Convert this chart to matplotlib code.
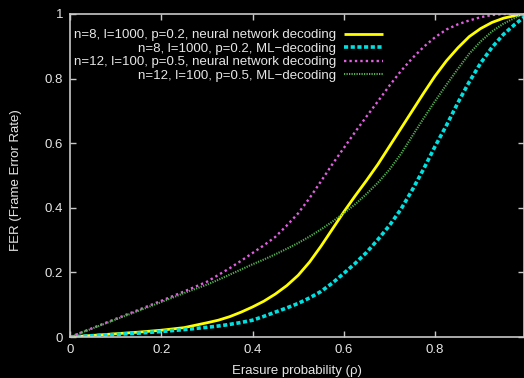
import matplotlib
matplotlib.use("Agg")
import matplotlib.pyplot as plt

plt.rcParams['font.family'] = ['Liberation Sans', 'DejaVu Sans']

# Data
rho = [0.0, 0.05, 0.1, 0.15, 0.2, 0.25, 0.3, 0.325, 0.35, 0.375, 0.4, 0.425,
       0.45, 0.475, 0.5, 0.525, 0.55, 0.575, 0.6, 0.625, 0.65, 0.675, 0.7,
       0.725, 0.75, 0.775, 0.8, 0.825, 0.85, 0.875, 0.9, 0.925, 0.95, 0.975,
       0.995]

fer_n8_nn = [0.0, 0.005, 0.01, 0.015, 0.021, 0.029, 0.044, 0.052, 0.063, 0.077,
             0.093, 0.111, 0.133, 0.159, 0.191, 0.232, 0.281, 0.334, 0.387, 0.437,
             0.485, 0.535, 0.59, 0.645, 0.7, 0.755, 0.808, 0.855, 0.895, 0.93,
             0.955, 0.974, 0.987, 0.995, 1.0]
fer_n8_ml = [0.0, 0.004, 0.008, 0.012, 0.017, 0.023, 0.030, 0.034, 0.039, 0.045,
             0.052, 0.064, 0.077, 0.09, 0.104, 0.121, 0.141, 0.167, 0.197, 0.228,
             0.262, 0.302, 0.345, 0.395, 0.455, 0.52, 0.59, 0.655, 0.725, 0.79,
             0.848, 0.897, 0.937, 0.968, 0.99]
fer_n12_nn = [0.0, 0.028, 0.056, 0.084, 0.112, 0.141, 0.171, 0.192, 0.213, 0.236,
              0.26, 0.284, 0.31, 0.345, 0.383, 0.43, 0.482, 0.535, 0.585, 0.635,
              0.683, 0.73, 0.778, 0.823, 0.863, 0.898, 0.928, 0.952, 0.968, 0.98,
              0.99, 0.997, 1.0, 1.0, 1.0]
fer_n12_ml = [0.0, 0.027, 0.054, 0.081, 0.108, 0.136, 0.162, 0.177, 0.193, 0.209,
              0.225, 0.24, 0.256, 0.273, 0.291, 0.311, 0.333, 0.357, 0.383, 0.411,
              0.443, 0.478, 0.518, 0.566, 0.622, 0.677, 0.73, 0.781, 0.83, 0.877,
              0.915, 0.946, 0.97, 0.988, 1.0]

labels = ["n=8, l=1000, p=0.2, neural network decoding",
          "n=8, l=1000, p=0.2, ML\u2212decoding",
          "n=12, l=100, p=0.5, neural network decoding",
          "n=12, l=100, p=0.5, ML\u2212decoding"]

xticks = [0, 0.2, 0.4, 0.6, 0.8]
yticks = [0, 0.2, 0.4, 0.6, 0.8, 1.0]
yticklabels = ["0", "0.2", "0.4", "0.6", "0.8", "1"]

W, H = 524, 378
FS = 9.5
fig = plt.figure(figsize=(W / 100, H / 100), dpi=100, facecolor='black')
ax = fig.add_axes([70 / W, 1 - 337 / H, 1 - 70 / W, (337 - 14) / H])
ax.set_facecolor('black')

textc = '#e6e6e6'
axc = '#c8c8c8'

ax.plot(rho, fer_n8_nn, color='#ffff00', lw=2.0, solid_capstyle='butt',
        solid_joinstyle='round', label=labels[0])
ax.plot(rho, fer_n8_ml, color='#00e0e0', lw=2.6, linestyle=(0, (1.15, 0.7)),
        dash_capstyle='butt', label=labels[1])
ax.plot(rho, fer_n12_nn, color='#e060e0', lw=1.7, linestyle=(0, (1.0, 1.3)),
        dash_capstyle='butt', label=labels[2])
ax.plot(rho, fer_n12_ml, color='#50b050', lw=1.5, linestyle=(0, (0.6, 0.6)),
        dash_capstyle='butt', label=labels[3])

ax.set_xlim(0, 0.995)
ax.set_ylim(0, 1)
ax.set_xticks(xticks)
ax.set_xticklabels([f"{t:g}" for t in xticks])
ax.set_yticks(yticks)
ax.set_yticklabels(yticklabels)

for s in ax.spines.values():
    s.set_color(axc)
    s.set_linewidth(1.2)

ax.tick_params(axis='both', which='both', direction='in', length=4.5, width=1.0,
               color=axc, labelcolor=textc, labelsize=FS,
               top=True, right=True)
ax.tick_params(axis='x', pad=5)
ax.tick_params(axis='y', pad=5)

fig.text(297 / W, 1 - 371 / H, "Erasure probability (\u03c1)", color=textc,
         fontsize=FS, ha='center', va='center')
fig.text(16 / W, 1 - 180 / H, "FER (Frame Error Rate)", color=textc,
         fontsize=FS, ha='center', va='center', rotation=90)

leg = ax.legend(loc='upper right', bbox_to_anchor=(383 / W, 1 - 29 / H),
                bbox_transform=fig.transFigure, frameon=False, markerfirst=False,
                fontsize=FS, handlelength=2.95, handletextpad=0.6, labelspacing=0.1,
                borderpad=0, borderaxespad=0)
for t in leg.get_texts():
    t.set_color(textc)

fig.savefig("out.png", dpi=100, facecolor='black')
